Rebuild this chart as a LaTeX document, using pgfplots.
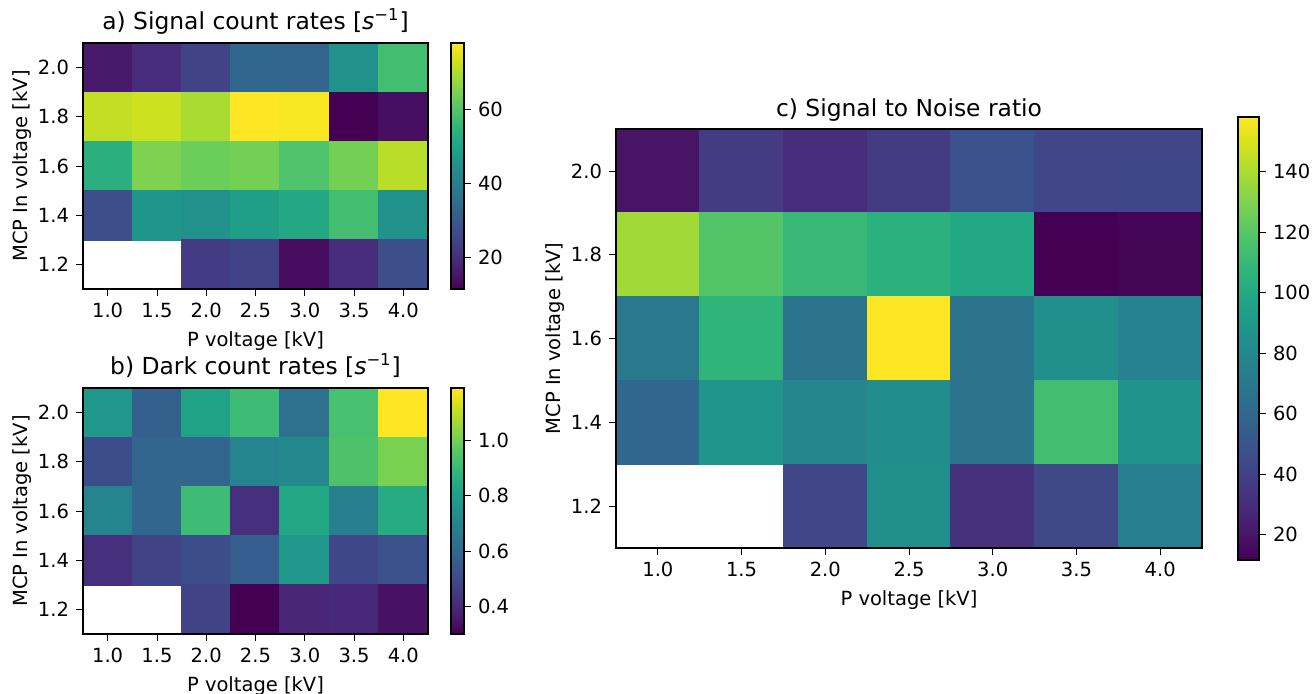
\documentclass[border=0pt]{standalone}
\usepackage{fontspec}
\setmainfont{DejaVu Sans}
\usepackage{pgfplots}
\usepackage{pgfplotstable}
\pgfplotsset{compat=1.18}

% Signal count rates [1/s]; cells at P = 1.0, 1.5 kV and MCP = 1.2 kV were not measured
\pgfplotstableread{
px my v
1.0 2.0 16
1.5 2.0 20
2.0 2.0 25
2.5 2.0 33.5
3.0 2.0 33
3.5 2.0 45
4.0 2.0 58
1.0 1.8 72
1.5 1.8 73
2.0 1.8 69.5
2.5 1.8 78
3.0 1.8 77.5
3.5 1.8 11.5
4.0 1.8 14
1.0 1.6 53.5
1.5 1.6 65
2.0 1.6 63
2.5 1.6 64
3.0 1.6 59.5
3.5 1.6 64
4.0 1.6 71
1.0 1.4 27.5
1.5 1.4 46
2.0 1.4 45
2.5 1.4 48.5
3.0 1.4 51.5
3.5 1.4 58
4.0 1.4 45
2.0 1.2 23
2.5 1.2 25
3.0 1.2 13.5
3.5 1.2 20
4.0 1.2 27.5
}\signaltab

% Dark count rates [1/s]
\pgfplotstableread{
px my v
1.0 2.0 0.77
1.5 2.0 0.57
2.0 2.0 0.81
2.5 2.0 0.91
3.0 2.0 0.63
3.5 2.0 0.93
4.0 2.0 1.19
1.0 1.8 0.51
1.5 1.8 0.59
2.0 1.8 0.59
2.5 1.8 0.70
3.0 1.8 0.72
3.5 1.8 0.94
4.0 1.8 1.01
1.0 1.6 0.70
1.5 1.6 0.59
2.0 1.6 0.91
2.5 1.6 0.42
3.0 1.6 0.83
3.5 1.6 0.68
4.0 1.6 0.85
1.0 1.4 0.42
1.5 1.4 0.48
2.0 1.4 0.51
2.5 1.4 0.56
3.0 1.4 0.77
3.5 1.4 0.49
4.0 1.4 0.52
2.0 1.2 0.48
2.5 1.2 0.30
3.0 1.2 0.39
3.5 1.2 0.40
4.0 1.2 0.34
}\darktab

% Signal to noise ratio
\pgfplotstableread{
px my v
1.0 2.0 19
1.5 2.0 36.5
2.0 2.0 30.5
2.5 2.0 36.5
3.0 2.0 48
3.5 2.0 42
4.0 2.0 42.5
1.0 1.8 137.5
1.5 1.8 118.5
2.0 1.8 110
2.5 1.8 105
3.0 1.8 99.5
3.5 1.8 11.6
4.0 1.8 13
1.0 1.6 70
1.5 1.6 107
2.0 1.6 67
2.5 1.6 158
3.0 1.6 67.5
3.5 1.6 85
4.0 1.6 76
1.0 1.4 60
1.5 1.4 88
2.0 1.4 79
2.5 1.4 83
3.0 1.4 67
3.5 1.4 114
4.0 1.4 86.5
2.0 1.2 42
2.5 1.2 85
3.0 1.2 32
3.5 1.2 43.5
4.0 1.2 74.5
}\snrtab

\pgfplotsset{
  /pgf/number format/assume math mode=true,
  heat/.style={
    scale only axis, axis on top, clip marker paths=true,
    colormap/viridis,
    xmin=0.75, xmax=4.25, ymin=1.1, ymax=2.1,
    xtick={1.0,1.5,2.0,2.5,3.0,3.5,4.0},
    ytick={1.2,1.4,1.6,1.8,2.0},
    xticklabel style={/pgf/number format/.cd, fixed, fixed zerofill, precision=1},
    yticklabel style={/pgf/number format/.cd, fixed, fixed zerofill, precision=1},
    xtick pos=bottom, ytick pos=left, tick align=outside,
    major tick length=3.5pt,
    tick style={black, line width=0.4pt},
    axis line style={line width=0.6pt},
    tick label style={font=\fontsize{9.75}{11}\selectfont},
    label style={font=\fontsize{9.75}{11}\selectfont},
    title style={font=\fontsize{11.7}{13}\selectfont, at={(0.5,1)}, anchor=base},
    xlabel={P voltage [kV]},
    ylabel={MCP In voltage [kV]},
    ylabel shift=-3.5pt,
    colorbar,
  },
  cbar/.style={
    scale only axis,
    at={(parent axis.north east)}, anchor=north west,
    ytick pos=right, yticklabel pos=right, tick align=outside,
    major tick length=3.5pt,
    tick style={black, line width=0.4pt},
    axis line style={line width=0.6pt},
    tick label style={font=\fontsize{9.75}{11}\selectfont},
  },
  % square cells, slightly oversized so that neighbours overlap without seams
  heatcells/.style={scatter, only marks, mark=square*, mark size=#1,
    point meta=\thisrow{v},
    scatter/use mapped color={draw=mapped color, fill=mapped color},
    mark options={line width=0.3pt}},
}

\begin{document}
\begin{tikzpicture}
\path[use as bounding box] (0,0) rectangle (656pt,346.5pt);

% a) signal count rates
\begin{axis}[heat,
  at={(41.5pt,202pt)}, anchor=south west,
  width=172.5pt, height=123pt,
  title style={yshift=1pt},
  title={a) Signal count rates [\textit{s}\textsuperscript{−1}]},
  point meta min=11.5, point meta max=78,
  colorbar style={cbar, xshift=2.96pt, width=6.5pt, height=123pt,
    ytick={20,40,60},
    yticklabel style={/pgf/number format/.cd, fixed, precision=0}},
]
\addplot[heatcells=12.5pt] table[x=px, y=my] {\signaltab};
\end{axis}

% b) dark count rates
\begin{axis}[heat,
  at={(41.5pt,29.5pt)}, anchor=south west,
  width=172.5pt, height=123pt,
  title style={yshift=1pt},
  title={b) Dark count rates [\textit{s}\textsuperscript{−1}]},
  point meta min=0.30, point meta max=1.19,
  colorbar style={cbar, xshift=2.96pt, width=6.5pt, height=123pt,
    ytick={0.4,0.6,0.8,1.0},
    yticklabel style={/pgf/number format/.cd, fixed, fixed zerofill, precision=1}},
]
\addplot[heatcells=12.5pt] table[x=px, y=my] {\darktab};
\end{axis}

% c) signal to noise ratio
\begin{axis}[heat,
  at={(308pt,72.5pt)}, anchor=south west,
  width=293pt, height=209.5pt,
  title style={yshift=0.5pt},
  title={c) Signal to Noise ratio},
  point meta min=11.6, point meta max=158,
  colorbar style={cbar, xshift=9.46pt, yshift=6pt, width=10.5pt, height=221.5pt,
    ytick={20,40,60,80,100,120,140},
    yticklabel style={/pgf/number format/.cd, fixed, precision=0}},
]
\addplot[heatcells=21.1pt] table[x=px, y=my] {\snrtab};
\end{axis}
\end{tikzpicture}
\end{document}
